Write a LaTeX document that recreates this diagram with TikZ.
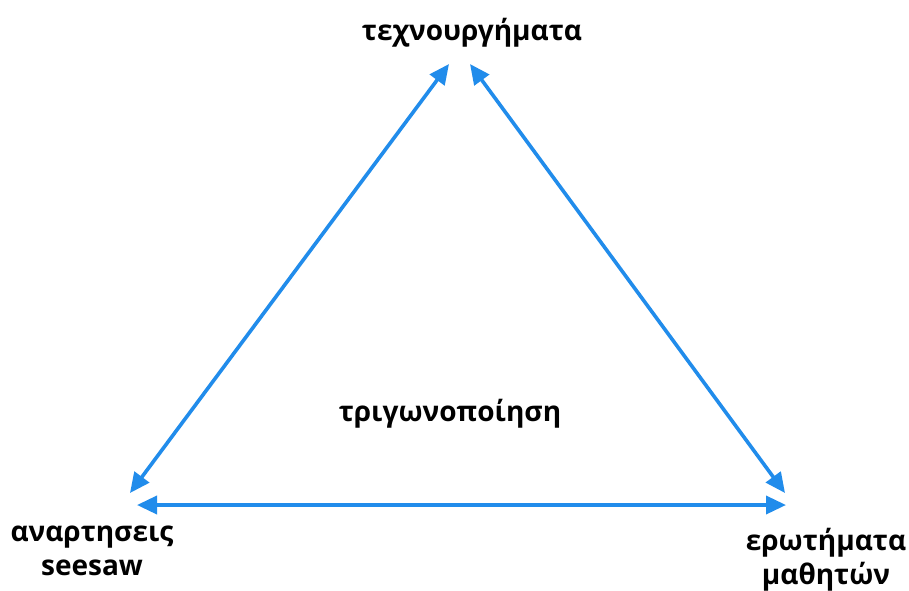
\documentclass[tikz,border=0pt]{standalone}
\usepackage{fontspec}
\setmainfont{Open Sans}
\usetikzlibrary{arrows.meta}
\definecolor{arrowblue}{RGB}{33,140,235}
\tikzset{
  lbl/.style={font=\bfseries\fontsize{28}{34}\selectfont, align=center, text=black, inner sep=0pt},
  link/.style={draw=arrowblue, line width=3.6pt, {Triangle[length=20pt,width=18pt]}-{Triangle[length=20pt,width=18pt]}}
}
\begin{document}
\begin{tikzpicture}[x=1pt,y=-1pt]
\useasboundingbox[fill=white] (0,0) rectangle (909,590);
\node[lbl] (top) at (472,33) {τεχνουργήματα};
\node[lbl] (left) at (92,551) {αναρτησεις\\seesaw};
\node[lbl] (right) at (826,560) {ερωτήματα\\μαθητών};
\node[lbl] (mid) at (450,414) {τριγωνοποίηση};
\coordinate (tl) at (449,64);
\coordinate (tr) at (470,64);
\coordinate (bl) at (130,493);
\coordinate (blh) at (137,505);
\coordinate (br) at (785,493);
\coordinate (brh) at (786,505);
\draw[link] (bl) -- (tl);
\draw[link] (br) -- (tr);
\draw[link] (blh) -- (brh);
\end{tikzpicture}
\end{document}
